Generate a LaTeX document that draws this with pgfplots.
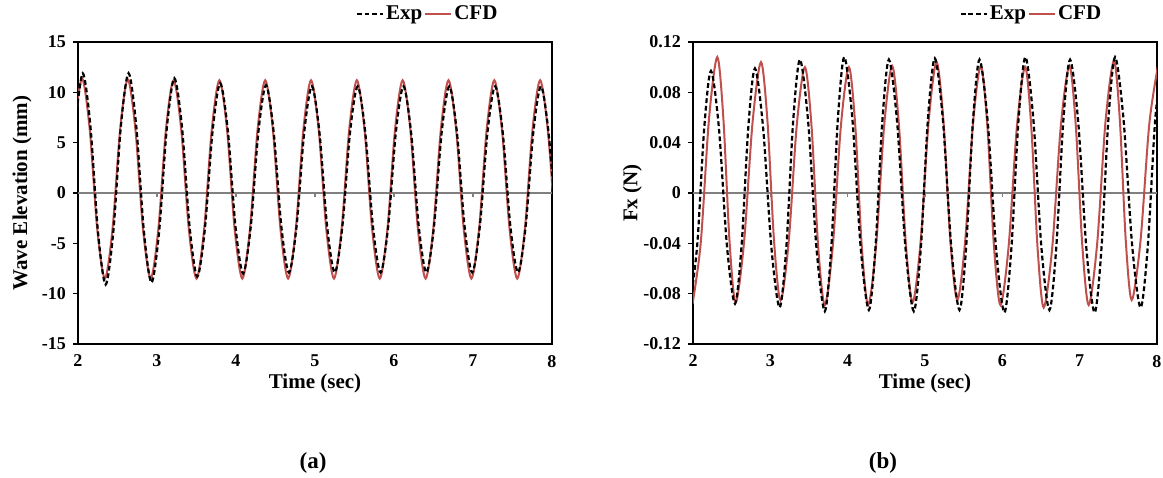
\documentclass[border=0pt]{standalone}
\usepackage{fontspec}
\setmainfont{Liberation Serif}
\usepackage{pgfplots}
\pgfplotsset{compat=1.18}
\usepackage{pgfplotstable}

\definecolor{cfdred}{RGB}{192,80,77}
\definecolor{zeroline}{RGB}{128,128,128}

% (a) wave elevation, mm
\pgfplotstableread{
t v
1.963 6.65
2.060 11.9
2.157 6.65
2.253 -3.85
2.350 -9.1
2.447 -3.85
2.543 6.65
2.640 11.9
2.737 6.7
2.833 -3.7
2.930 -8.9
3.027 -3.83
3.123 6.33
3.220 11.4
3.317 6.48
3.413 -3.38
3.510 -8.3
3.607 -3.5
3.703 6.1
3.800 10.9
3.897 6.18
3.993 -3.28
4.090 -8.0
4.187 -3.33
4.283 6.03
4.380 10.7
4.477 6.05
4.573 -3.25
4.670 -7.9
4.767 -3.28
4.863 5.98
4.960 10.6
5.057 5.98
5.153 -3.28
5.250 -7.9
5.347 -3.28
5.443 5.98
5.540 10.6
5.637 5.98
5.733 -3.28
5.830 -7.9
5.927 -3.28
6.023 5.98
6.120 10.6
6.217 5.98
6.313 -3.28
6.410 -7.9
6.507 -3.28
6.603 5.98
6.700 10.6
6.797 5.98
6.893 -3.28
6.990 -7.9
7.087 -3.28
7.183 5.98
7.280 10.6
7.377 5.98
7.473 -3.28
7.570 -7.9
7.667 -3.28
7.763 5.98
7.860 10.6
7.957 5.98
8.053 -3.28
}\waveexp

\pgfplotstableread{
t v
1.953 6.43
2.050 11.4
2.147 6.43
2.243 -3.53
2.340 -8.5
2.437 -3.58
2.533 6.28
2.630 11.3
2.727 6.28
2.823 -3.58
2.920 -8.5
3.017 -3.58
3.113 6.28
3.210 11.2
3.307 6.28
3.403 -3.58
3.500 -8.5
3.597 -3.58
3.693 6.28
3.790 11.2
3.887 6.28
3.983 -3.58
4.080 -8.5
4.177 -3.58
4.273 6.28
4.370 11.2
4.467 6.28
4.563 -3.58
4.660 -8.5
4.757 -3.58
4.853 6.28
4.950 11.2
5.047 6.28
5.143 -3.58
5.240 -8.5
5.337 -3.58
5.433 6.28
5.530 11.2
5.627 6.28
5.723 -3.58
5.820 -8.5
5.917 -3.58
6.013 6.28
6.110 11.2
6.207 6.28
6.303 -3.58
6.400 -8.5
6.497 -3.58
6.593 6.28
6.690 11.2
6.787 6.28
6.883 -3.58
6.980 -8.5
7.077 -3.58
7.173 6.28
7.270 11.2
7.367 6.28
7.463 -3.58
7.560 -8.5
7.657 -3.58
7.753 6.28
7.850 11.2
7.947 6.28
8.043 -3.58
}\wavecfd

% (b) Fx, N
\pgfplotstableread{
t v
1.970 -0.085
2.057 -0.0395
2.145 0.0515
2.232 0.097
2.336 0.051
2.439 -0.042
2.543 -0.088
2.629 -0.041
2.715 0.052
2.801 0.099
2.907 0.0515
3.014 -0.0435
3.120 -0.091
3.208 -0.042
3.295 0.057
3.383 0.106
3.490 0.056
3.597 -0.044
3.704 -0.094
3.788 -0.0435
3.872 0.0575
3.956 0.108
4.062 0.058
4.168 -0.043
4.274 -0.093
4.360 -0.043
4.447 0.056
4.533 0.106
4.640 0.056
4.748 -0.044
4.855 -0.094
4.946 -0.044
5.036 0.057
5.127 0.107
5.233 0.057
5.340 -0.043
5.446 -0.093
5.532 -0.043
5.619 0.056
5.705 0.106
5.812 0.056
5.920 -0.045
6.027 -0.095
6.117 -0.044
6.208 0.057
6.298 0.108
6.402 0.058
6.505 -0.043
6.609 -0.093
6.698 -0.043
6.787 0.056
6.876 0.106
6.982 0.056
7.088 -0.045
7.194 -0.095
7.282 -0.044
7.370 0.057
7.458 0.108
7.568 0.058
7.678 -0.041
7.788 -0.091
7.882 -0.0415
7.976 0.0575
8.070 0.107
}\fxexp

\pgfplotstableread{
t v
1.994 -0.088
2.101 -0.039
2.207 0.059
2.314 0.108
2.393 0.059
2.472 -0.038
2.551 -0.087
2.660 -0.039
2.770 0.056
2.879 0.104
2.963 0.057
3.048 -0.038
3.132 -0.0855
3.237 -0.039
3.342 0.054
3.447 0.100
3.533 0.053
3.618 -0.042
3.704 -0.089
3.808 -0.042
3.912 0.053
4.016 0.100
4.099 0.053
4.182 -0.042
4.265 -0.089
4.368 -0.0415
4.472 0.0535
4.575 0.101
4.663 0.054
4.752 -0.040
4.840 -0.087
4.943 -0.039
5.046 0.056
5.149 0.104
5.239 0.057
5.328 -0.038
5.418 -0.085
5.519 -0.0385
5.620 0.0545
5.721 0.101
5.806 0.0535
5.891 -0.0415
5.976 -0.089
6.082 -0.042
6.189 0.053
6.295 0.100
6.375 0.052
6.455 -0.043
6.535 -0.091
6.646 -0.043
6.756 0.053
6.867 0.101
6.950 0.0535
7.034 -0.0415
7.117 -0.089
7.226 -0.0405
7.334 0.0565
7.443 0.105
7.520 0.0575
7.596 -0.0375
7.673 -0.085
7.786 -0.0385
7.900 0.0545
8.013 0.101
}\fxcfd

\pgfplotsset{
  exp/.style={black, line width=1.1pt, dash pattern=on 2.4pt off 1.4pt},
  cfd/.style={cfdred, line width=1pt},
  panel/.style={
    scale only axis,
    height=151pt,
    xmin=2, xmax=8,
    xtick={2,3,4,5,6,7,8},
    xticklabels={2,3,4,5,6,7,8},
    xtick style={draw=none},
    xticklabel shift=2pt,
    ytick align=outside,
    ytick pos=left,
    major tick length=2.5pt,
    ytick style={black, line width=0.6pt},
    axis line style={line width=1pt},
    tick label style={font=\bfseries\fontsize{9}{10}\selectfont},
    label style={font=\bfseries\fontsize{10.5}{12}\selectfont},
    xlabel={Time (sec)},
    xlabel style={at={(axis description cs:0.5,-0.129)}, anchor=center},
    legend columns=2,
    legend style={draw=none, fill=none, inner sep=0pt,
      font=\bfseries\fontsize{10.5}{12}\selectfont,
      nodes={inner sep=1pt}},
    legend image code/.code={\draw[##1] (0pt,0pt) -- (13pt,0pt);},
  },
}

\begin{document}
\begin{tikzpicture}
\path[use as bounding box] (0,0) rectangle (581.5pt,238.5pt);

\begin{axis}[panel,
  at={(39pt,66.5pt)}, anchor=south west, width=237pt,
  ymin=-15, ymax=15,
  ytick={-15,-10,-5,0,5,10,15},
  yticklabels={-15,-10,-5,0,5,10,15},
  ylabel={Wave Elevation (mm)},
  ylabel style={at={(axis description cs:-0.118,0.5)}, anchor=center},
  legend style={at={(axis description cs:0.89,1.093)}, anchor=east},
]
\addlegendimage{exp}\addlegendentry{Exp}
\addlegendimage{cfd}\addlegendentry{CFD}
\addplot[zeroline, line width=1pt, forget plot] coordinates {(2,0) (8,0)};
\addplot[zeroline, line width=0.6pt, ycomb, forget plot] coordinates {(3,-0.35) (4,-0.35) (5,-0.35) (6,-0.35) (7,-0.35)};
\addplot[cfd, smooth, forget plot] table[x=t, y=v] {\wavecfd};
\addplot[exp, smooth, forget plot] table[x=t, y=v] {\waveexp};
\end{axis}

\begin{axis}[panel,
  at={(346.5pt,66.5pt)}, anchor=south west, width=232pt,
  ymin=-0.12, ymax=0.12,
  ytick={-0.12,-0.08,-0.04,0,0.04,0.08,0.12},
  yticklabels={-0.12,-0.08,-0.04,0,0.04,0.08,0.12},
  ylabel={Fx (N)},
  ylabel style={at={(axis description cs:-0.131,0.5)}, anchor=center},
  legend style={at={(axis description cs:0.885,1.093)}, anchor=east},
]
\addlegendimage{exp}\addlegendentry{Exp}
\addlegendimage{cfd}\addlegendentry{CFD}
\addplot[zeroline, line width=1pt, forget plot] coordinates {(2,0) (8,0)};
\addplot[zeroline, line width=0.6pt, ycomb, forget plot] coordinates {(3,-0.0028) (4,-0.0028) (5,-0.0028) (6,-0.0028) (7,-0.0028)};
\addplot[cfd, smooth, forget plot] table[x=t, y=v] {\fxcfd};
\addplot[exp, smooth, forget plot] table[x=t, y=v] {\fxexp};
\end{axis}

\node[font=\bfseries\fontsize{11.5}{13}\selectfont] at (156.5pt,7pt) {(a)};
\node[font=\bfseries\fontsize{11.5}{13}\selectfont] at (441.5pt,7pt) {(b)};
\end{tikzpicture}
\end{document}
